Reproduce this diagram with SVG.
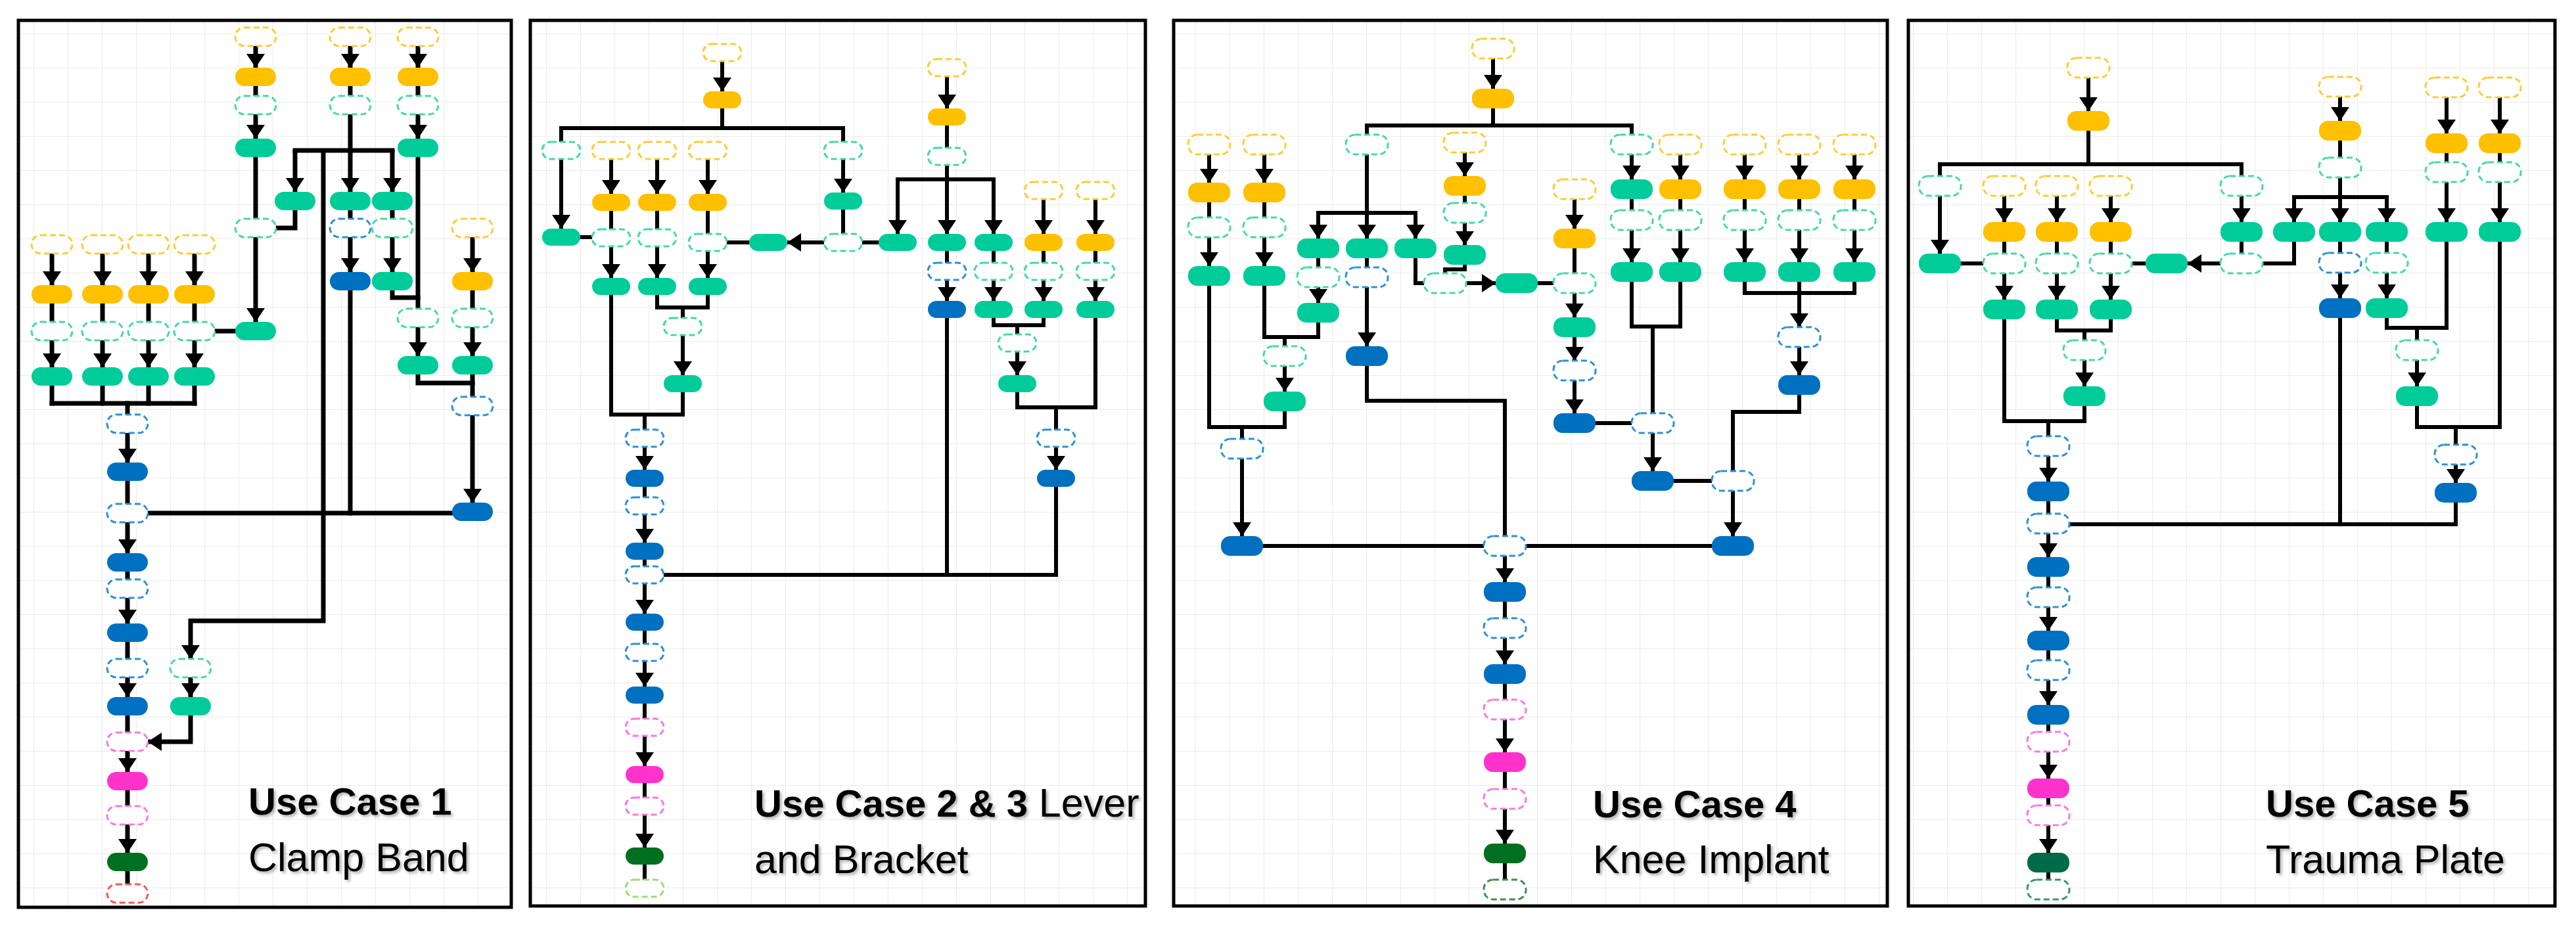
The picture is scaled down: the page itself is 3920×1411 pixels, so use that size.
<svg xmlns="http://www.w3.org/2000/svg" xmlns:xlink="http://www.w3.org/1999/xlink" width="3920" height="1411" viewBox="0 0 3920 1411">
<style>
.c{fill:none;stroke:#000;stroke-width:6;stroke-linecap:square;stroke-linejoin:miter}
.a{fill:none;stroke:#000;stroke-width:6;stroke-linecap:butt;stroke-linejoin:miter;marker-end:url(#ah)}
#p1-connectors .c,#p1-connectors .a{stroke-width:7}
.Y{fill:#FFC000}
.G{fill:#00CC99}
.B{fill:#0070C0}
.P{fill:#FF33CC}
.K{fill:#007020}
.K2{fill:#006B48}
.d{fill:#fff;stroke-width:3;stroke-dasharray:9 5}
.dY{stroke:#FFCC33}
.dG{stroke:#44D9AA}
.dB{stroke:#2E90D8}
.dP{stroke:#FF77DD}
.dR{stroke:#FF5555}
.dL{stroke:#99DD77}
.dK{stroke:#3E8E4E}
.dK2{stroke:#3A9474}
.frame{fill:url(#grid);stroke:#000;stroke-width:5}
.t{font-family:"Liberation Sans",Arial,sans-serif;fill:#000;filter:url(#sh)}
.tb{font-weight:bold;font-size:58px}
.tr{font-size:61px}
</style>
<defs>
<pattern id="grid" width="52" height="52" patternUnits="userSpaceOnUse"><rect width="52" height="52" fill="#fff"/><path d="M52,0 V52 M0,52 H52" fill="none" stroke="#ebebeb" stroke-width="2"/></pattern>
<marker id="ah" markerUnits="userSpaceOnUse" markerWidth="21" markerHeight="28" refX="21" refY="14" orient="auto"><path d="M0,0 L21,14 L0,28 Z" fill="#000"/></marker>
<filter id="sh" x="-10%" y="-30%" width="130%" height="170%"><feDropShadow dx="3" dy="3" stdDeviation="2" flood-color="#000" flood-opacity="0.3"/></filter>
<rect id="s1" x="-31" y="-14" width="62" height="28" rx="14"/>
<rect id="s2" x="-29" y="-13" width="58" height="26" rx="13"/>
<rect id="s3" x="-32" y="-15" width="64" height="30" rx="14"/>
</defs>
<rect width="3920" height="1411" fill="#fff"/>

<!-- ================= PANEL 1 ================= -->
<g id="panel1">
<rect class="frame" x="28" y="31" width="750" height="1350"/>
<g id="p1-connectors">
<path class="a" d="M389,70 V103"/><path class="c" d="M389,131 V146"/><path class="a" d="M389,174 V211"/><path class="c" d="M389,239 V333"/><path class="a" d="M389,361 V490"/>
<path class="a" d="M533,70 V103"/><path class="c" d="M533,131 V146"/><path class="c" d="M533,174 V229"/><path class="c" d="M449,229 H597"/>
<path class="a" d="M449,229 V292"/><path class="a" d="M533,229 V292"/><path class="a" d="M597,229 V292"/>
<path class="a" d="M492,229 V945 H290 V1003"/>
<path class="c" d="M449,320 V347 H420"/>
<path class="c" d="M533,320 V333"/><path class="a" d="M533,361 V414"/><path class="c" d="M533,442 V781"/>
<path class="c" d="M597,320 V333"/><path class="a" d="M597,361 V414"/><path class="c" d="M597,442 V453 H636"/>
<path class="a" d="M636,70 V103"/><path class="c" d="M636,131 V146"/><path class="a" d="M636,174 V211"/><path class="c" d="M636,239 V470"/><path class="a" d="M636,498 V542"/><path class="c" d="M636,570 V583 H719"/>
<path class="a" d="M719,361 V414"/><path class="c" d="M719,442 V470"/><path class="a" d="M719,498 V542"/><path class="c" d="M719,570 V604"/><path class="a" d="M719,632 V765"/>
<path class="a" d="M79,386 V434"/><path class="c" d="M79,462 V490"/><path class="a" d="M79,518 V559"/><path class="c" d="M79,587 V614"/>
<path class="a" d="M156,386 V434"/><path class="c" d="M156,462 V490"/><path class="a" d="M156,518 V559"/><path class="c" d="M156,587 V614"/>
<path class="a" d="M226,386 V434"/><path class="c" d="M226,462 V490"/><path class="a" d="M226,518 V559"/><path class="c" d="M226,587 V614"/>
<path class="a" d="M296,386 V434"/><path class="c" d="M296,462 V490"/><path class="a" d="M296,518 V559"/><path class="c" d="M296,587 V614"/>
<path class="c" d="M79,614 H296"/><path class="c" d="M194,614 V631"/>
<path class="c" d="M327,504 H358"/>
<path class="a" d="M194,659 V704"/><path class="c" d="M194,732 V767"/><path class="a" d="M194,795 V842"/><path class="c" d="M194,870 V882"/><path class="a" d="M194,910 V949"/><path class="c" d="M194,977 V1003"/><path class="a" d="M194,1031 V1061"/><path class="c" d="M194,1089 V1115"/><path class="a" d="M194,1143 V1175"/><path class="c" d="M194,1203 V1227"/><path class="a" d="M194,1255 V1298"/><path class="c" d="M194,1326 V1346"/>
<path class="c" d="M225,781 H688"/>
<path class="a" d="M290,1031 V1061"/><path class="a" d="M290,1089 V1129 H225"/>
</g>
<g id="p1-n01"><use href="#s1" class="d dY" x="389" y="56"/></g>
<g id="p1-n02"><use href="#s1" class="Y" x="389" y="117"/></g>
<g id="p1-n03"><use href="#s1" class="d dG" x="389" y="160"/></g>
<g id="p1-n04"><use href="#s1" class="G" x="389" y="225"/></g>
<g id="p1-n05"><use href="#s1" class="d dG" x="389" y="347"/></g>
<g id="p1-n06"><use href="#s1" class="G" x="389" y="504"/></g>
<g id="p1-n07"><use href="#s1" class="d dY" x="533" y="56"/></g>
<g id="p1-n08"><use href="#s1" class="Y" x="533" y="117"/></g>
<g id="p1-n09"><use href="#s1" class="d dG" x="533" y="160"/></g>
<g id="p1-n10"><use href="#s1" class="G" x="533" y="306"/></g>
<g id="p1-n11"><use href="#s1" class="d dB" x="533" y="347"/></g>
<g id="p1-n12"><use href="#s1" class="B" x="533" y="428"/></g>
<g id="p1-n13"><use href="#s1" class="d dY" x="636" y="56"/></g>
<g id="p1-n14"><use href="#s1" class="Y" x="636" y="117"/></g>
<g id="p1-n15"><use href="#s1" class="d dG" x="636" y="160"/></g>
<g id="p1-n16"><use href="#s1" class="G" x="636" y="225"/></g>
<g id="p1-n17"><use href="#s1" class="d dG" x="636" y="484"/></g>
<g id="p1-n18"><use href="#s1" class="G" x="636" y="556"/></g>
<g id="p1-n19"><use href="#s1" class="G" x="449" y="306"/></g>
<g id="p1-n20"><use href="#s1" class="G" x="597" y="306"/></g>
<g id="p1-n21"><use href="#s1" class="d dG" x="597" y="347"/></g>
<g id="p1-n22"><use href="#s1" class="G" x="597" y="428"/></g>
<g id="p1-n23"><use href="#s1" class="d dY" x="719" y="347"/></g>
<g id="p1-n24"><use href="#s1" class="Y" x="719" y="428"/></g>
<g id="p1-n25"><use href="#s1" class="d dG" x="719" y="484"/></g>
<g id="p1-n26"><use href="#s1" class="G" x="719" y="556"/></g>
<g id="p1-n27"><use href="#s1" class="d dB" x="719" y="618"/></g>
<g id="p1-n28"><use href="#s1" class="B" x="719" y="779"/></g>
<g id="p1-n29"><use href="#s1" class="d dY" x="79" y="372"/></g>
<g id="p1-n30"><use href="#s1" class="Y" x="79" y="448"/></g>
<g id="p1-n31"><use href="#s1" class="d dG" x="79" y="504"/></g>
<g id="p1-n32"><use href="#s1" class="G" x="79" y="573"/></g>
<g id="p1-n33"><use href="#s1" class="d dY" x="156" y="372"/></g>
<g id="p1-n34"><use href="#s1" class="Y" x="156" y="448"/></g>
<g id="p1-n35"><use href="#s1" class="d dG" x="156" y="504"/></g>
<g id="p1-n36"><use href="#s1" class="G" x="156" y="573"/></g>
<g id="p1-n37"><use href="#s1" class="d dY" x="226" y="372"/></g>
<g id="p1-n38"><use href="#s1" class="Y" x="226" y="448"/></g>
<g id="p1-n39"><use href="#s1" class="d dG" x="226" y="504"/></g>
<g id="p1-n40"><use href="#s1" class="G" x="226" y="573"/></g>
<g id="p1-n41"><use href="#s1" class="d dY" x="296" y="372"/></g>
<g id="p1-n42"><use href="#s1" class="Y" x="296" y="448"/></g>
<g id="p1-n43"><use href="#s1" class="d dG" x="296" y="504"/></g>
<g id="p1-n44"><use href="#s1" class="G" x="296" y="573"/></g>
<g id="p1-n45"><use href="#s1" class="d dB" x="194" y="645"/></g>
<g id="p1-n46"><use href="#s1" class="B" x="194" y="718"/></g>
<g id="p1-n47"><use href="#s1" class="d dB" x="194" y="781"/></g>
<g id="p1-n48"><use href="#s1" class="B" x="194" y="856"/></g>
<g id="p1-n49"><use href="#s1" class="d dB" x="194" y="896"/></g>
<g id="p1-n50"><use href="#s1" class="B" x="194" y="963"/></g>
<g id="p1-n51"><use href="#s1" class="d dB" x="194" y="1017"/></g>
<g id="p1-n52"><use href="#s1" class="B" x="194" y="1075"/></g>
<g id="p1-n53"><use href="#s1" class="d dP" x="194" y="1129"/></g>
<g id="p1-n54"><use href="#s1" class="P" x="194" y="1189"/></g>
<g id="p1-n55"><use href="#s1" class="d dP" x="194" y="1241"/></g>
<g id="p1-n56"><use href="#s1" class="K" x="194" y="1312"/></g>
<g id="p1-n57"><use href="#s1" class="d dR" x="194" y="1360"/></g>
<g id="p1-n58"><use href="#s1" class="d dG" x="290" y="1017"/></g>
<g id="p1-n59"><use href="#s1" class="G" x="290" y="1075"/></g>
<g id="p1-label"><text class="t tb" x="378" y="1240">Use Case 1</text><text class="t tr" x="378" y="1326">Clamp Band</text></g>
</g>

<!-- ================= PANEL 2 ================= -->
<g id="panel2">
<rect class="frame" x="807" y="31" width="936" height="1348"/>
<g id="p2-connectors">
<path class="a" d="M1099,93 V139"/><path class="c" d="M1099,165 V195"/><path class="c" d="M854,195 H1283"/><path class="c" d="M854,195 V216"/><path class="c" d="M1283,195 V216"/>
<path class="a" d="M854,242 V348"/>
<path class="a" d="M1283,242 V293"/><path class="c" d="M1283,319 V356"/>
<path class="a" d="M1254,369 H1198"/><path class="c" d="M1337,369 H1312"/><path class="c" d="M1140,369 H1106"/><path class="c" d="M883,361 H901"/>
<path class="a" d="M930,242 V295"/><path class="c" d="M930,321 V349"/><path class="a" d="M930,375 V423"/>
<path class="a" d="M1000,242 V295"/><path class="c" d="M1000,321 V349"/><path class="a" d="M1000,375 V423"/>
<path class="a" d="M1077,242 V295"/><path class="c" d="M1077,321 V356"/><path class="a" d="M1077,382 V423"/>
<path class="c" d="M1000,449 V468 H1077 V449"/><path class="c" d="M1039,468 V484"/><path class="a" d="M1039,510 V571"/>
<path class="c" d="M930,449 V631 H1039 V597"/><path class="c" d="M981,631 V654"/><path class="a" d="M981,680 V715"/>
<path class="c" d="M981,741 V757"/><path class="a" d="M981,783 V826"/><path class="c" d="M981,852 V862"/><path class="a" d="M981,888 V934"/><path class="c" d="M981,960 V980"/><path class="a" d="M981,1006 V1045"/><path class="c" d="M981,1071 V1094"/><path class="a" d="M981,1120 V1166"/><path class="c" d="M981,1192 V1214"/><path class="a" d="M981,1240 V1290"/><path class="c" d="M981,1316 V1339"/>
<path class="a" d="M1441,116 V165"/><path class="c" d="M1441,191 V225"/><path class="c" d="M1441,251 V273"/><path class="c" d="M1366,273 H1512"/>
<path class="a" d="M1366,273 V356"/><path class="a" d="M1441,273 V356"/><path class="a" d="M1512,273 V356"/>
<path class="a" d="M1588,303 V356"/><path class="a" d="M1667,303 V356"/>
<path class="c" d="M1441,382 V400"/><path class="a" d="M1441,426 V458"/><path class="c" d="M1441,484 V875"/>
<path class="c" d="M1512,382 V400"/><path class="a" d="M1512,426 V458"/>
<path class="c" d="M1588,382 V400"/><path class="a" d="M1588,426 V458"/>
<path class="c" d="M1667,382 V400"/><path class="a" d="M1667,426 V458"/>
<path class="c" d="M1512,484 V495 H1588 V484"/><path class="c" d="M1548,495 V509"/><path class="a" d="M1548,535 V571"/>
<path class="c" d="M1548,597 V620 H1667 V484"/><path class="c" d="M1607,620 V654"/><path class="a" d="M1607,680 V715"/>
<path class="c" d="M1607,741 V875 H1010"/>
</g>
<g id="p2-n01"><use href="#s2" class="d dY" x="1099" y="80"/></g>
<g id="p2-n02"><use href="#s2" class="Y" x="1099" y="152"/></g>
<g id="p2-n03"><use href="#s2" class="d dG" x="854" y="229"/></g>
<g id="p2-n04"><use href="#s2" class="G" x="854" y="361"/></g>
<g id="p2-n05"><use href="#s2" class="d dG" x="1283" y="229"/></g>
<g id="p2-n06"><use href="#s2" class="G" x="1283" y="306"/></g>
<g id="p2-n07"><use href="#s2" class="d dG" x="1283" y="369"/></g>
<g id="p2-n08"><use href="#s2" class="G" x="1169" y="369"/></g>
<g id="p2-n09"><use href="#s2" class="G" x="1366" y="369"/></g>
<g id="p2-n10"><use href="#s2" class="d dY" x="930" y="229"/></g>
<g id="p2-n11"><use href="#s2" class="Y" x="930" y="308"/></g>
<g id="p2-n12"><use href="#s2" class="d dG" x="930" y="362"/></g>
<g id="p2-n13"><use href="#s2" class="G" x="930" y="436"/></g>
<g id="p2-n14"><use href="#s2" class="d dY" x="1000" y="229"/></g>
<g id="p2-n15"><use href="#s2" class="Y" x="1000" y="308"/></g>
<g id="p2-n16"><use href="#s2" class="d dG" x="1000" y="362"/></g>
<g id="p2-n17"><use href="#s2" class="G" x="1000" y="436"/></g>
<g id="p2-n18"><use href="#s2" class="d dY" x="1077" y="229"/></g>
<g id="p2-n19"><use href="#s2" class="Y" x="1077" y="308"/></g>
<g id="p2-n20"><use href="#s2" class="d dG" x="1077" y="369"/></g>
<g id="p2-n21"><use href="#s2" class="G" x="1077" y="436"/></g>
<g id="p2-n22"><use href="#s2" class="d dG" x="1039" y="497"/></g>
<g id="p2-n23"><use href="#s2" class="G" x="1039" y="584"/></g>
<g id="p2-n24"><use href="#s2" class="d dB" x="981" y="667"/></g>
<g id="p2-n25"><use href="#s2" class="B" x="981" y="728"/></g>
<g id="p2-n26"><use href="#s2" class="d dB" x="981" y="770"/></g>
<g id="p2-n27"><use href="#s2" class="B" x="981" y="839"/></g>
<g id="p2-n28"><use href="#s2" class="d dB" x="981" y="875"/></g>
<g id="p2-n29"><use href="#s2" class="B" x="981" y="947"/></g>
<g id="p2-n30"><use href="#s2" class="d dB" x="981" y="993"/></g>
<g id="p2-n31"><use href="#s2" class="B" x="981" y="1058"/></g>
<g id="p2-n32"><use href="#s2" class="d dP" x="981" y="1107"/></g>
<g id="p2-n33"><use href="#s2" class="P" x="981" y="1179"/></g>
<g id="p2-n34"><use href="#s2" class="d dP" x="981" y="1227"/></g>
<g id="p2-n35"><use href="#s2" class="K" x="981" y="1303"/></g>
<g id="p2-n36"><use href="#s2" class="d dL" x="981" y="1352"/></g>
<g id="p2-n37"><use href="#s2" class="d dY" x="1441" y="103"/></g>
<g id="p2-n38"><use href="#s2" class="Y" x="1441" y="178"/></g>
<g id="p2-n39"><use href="#s2" class="d dG" x="1441" y="238"/></g>
<g id="p2-n40"><use href="#s2" class="G" x="1441" y="369"/></g>
<g id="p2-n41"><use href="#s2" class="G" x="1512" y="369"/></g>
<g id="p2-n42"><use href="#s2" class="d dY" x="1588" y="290"/></g>
<g id="p2-n43"><use href="#s2" class="d dY" x="1667" y="290"/></g>
<g id="p2-n44"><use href="#s2" class="Y" x="1588" y="369"/></g>
<g id="p2-n45"><use href="#s2" class="Y" x="1667" y="369"/></g>
<g id="p2-n46"><use href="#s2" class="d dB" x="1441" y="413"/></g>
<g id="p2-n47"><use href="#s2" class="d dG" x="1512" y="413"/></g>
<g id="p2-n48"><use href="#s2" class="d dG" x="1588" y="413"/></g>
<g id="p2-n49"><use href="#s2" class="d dG" x="1667" y="413"/></g>
<g id="p2-n50"><use href="#s2" class="B" x="1441" y="471"/></g>
<g id="p2-n51"><use href="#s2" class="G" x="1512" y="471"/></g>
<g id="p2-n52"><use href="#s2" class="G" x="1588" y="471"/></g>
<g id="p2-n53"><use href="#s2" class="G" x="1667" y="471"/></g>
<g id="p2-n54"><use href="#s2" class="d dG" x="1548" y="522"/></g>
<g id="p2-n55"><use href="#s2" class="G" x="1548" y="584"/></g>
<g id="p2-n56"><use href="#s2" class="d dB" x="1607" y="667"/></g>
<g id="p2-n57"><use href="#s2" class="B" x="1607" y="728"/></g>
<g id="p2-label"><text class="t" x="1148" y="1243"><tspan class="tb">Use Case 2 &amp; 3</tspan><tspan class="tr"> Lever</tspan></text><text class="t tr" x="1148" y="1329">and Bracket</text></g>
</g>

<!-- ================= PANEL 3 ================= -->
<g id="panel3">
<rect class="frame" x="1786" y="31" width="1086" height="1348"/>
<g id="p3-connectors">
<path class="a" d="M2272,89 V135"/><path class="c" d="M2272,165 V191"/><path class="c" d="M2080,191 H2483"/><path class="c" d="M2080,191 V205"/><path class="c" d="M2483,191 V205"/>
<path class="c" d="M2080,235 V324"/><path class="c" d="M2006,324 H2154"/>
<path class="a" d="M2006,324 V363"/><path class="a" d="M2080,324 V363"/><path class="a" d="M2154,324 V363"/>
<path class="a" d="M2483,235 V273"/><path class="c" d="M2483,303 V320"/><path class="a" d="M2483,350 V399"/>
<path class="a" d="M1840,235 V278"/><path class="c" d="M1840,308 V331"/><path class="a" d="M1840,361 V405"/>
<path class="a" d="M1924,235 V278"/><path class="c" d="M1924,308 V331"/><path class="a" d="M1924,361 V405"/>
<path class="a" d="M2229,232 V268"/><path class="c" d="M2229,298 V309"/><path class="a" d="M2229,339 V373"/>
<path class="c" d="M2006,393 V407"/><path class="a" d="M2006,437 V461"/>
<path class="c" d="M2080,393 V407"/><path class="a" d="M2080,437 V527"/>
<path class="c" d="M2154,393 V431 H2167"/>
<path class="c" d="M2229,403 V410 H2199 V416"/>
<path class="a" d="M2231,431 H2276"/><path class="c" d="M2340,431 H2364"/>
<path class="a" d="M2396,303 V348"/><path class="c" d="M2396,378 V416"/><path class="a" d="M2396,446 V483"/><path class="a" d="M2396,513 V549"/><path class="a" d="M2396,579 V629"/>
<path class="c" d="M2428,644 H2483"/>
<path class="a" d="M2557,235 V273"/><path class="c" d="M2557,303 V320"/><path class="a" d="M2557,350 V399"/>
<path class="a" d="M2655,235 V273"/><path class="c" d="M2655,303 V320"/><path class="a" d="M2655,350 V399"/>
<path class="a" d="M2738,235 V273"/><path class="c" d="M2738,303 V320"/><path class="a" d="M2738,350 V399"/>
<path class="a" d="M2822,235 V273"/><path class="c" d="M2822,303 V320"/><path class="a" d="M2822,350 V399"/>
<path class="c" d="M2483,429 V497 H2557 V429"/><path class="c" d="M2515,497 V629"/>
<path class="a" d="M2515,659 V717"/><path class="c" d="M2547,732 H2605"/><path class="a" d="M2637,747 V816"/>
<path class="c" d="M2738,601 V627 H2637 V717"/>
<path class="c" d="M2655,429 V446 H2822 V429"/><path class="a" d="M2738,429 V498"/><path class="a" d="M2738,528 V571"/>
<path class="c" d="M1924,435 V513 H2006 V491"/><path class="c" d="M1955,513 V527"/><path class="a" d="M1955,557 V596"/>
<path class="c" d="M1840,435 V650 H1955 V626"/><path class="c" d="M1890,650 V668"/><path class="a" d="M1890,698 V816"/>
<path class="c" d="M2080,557 V610 H2290 V816"/>
<path class="c" d="M1922,831 H2258"/><path class="c" d="M2322,831 H2605"/>
<path class="a" d="M2290,846 V886"/><path class="c" d="M2290,916 V941"/><path class="a" d="M2290,971 V1011"/><path class="c" d="M2290,1041 V1065"/><path class="a" d="M2290,1095 V1145"/><path class="c" d="M2290,1175 V1201"/><path class="a" d="M2290,1231 V1284"/><path class="c" d="M2290,1314 V1339"/>
</g>
<g id="p3-n01"><use href="#s3" class="d dY" x="2272" y="74"/></g>
<g id="p3-n02"><use href="#s3" class="Y" x="2272" y="150"/></g>
<g id="p3-n03"><use href="#s3" class="d dG" x="2080" y="220"/></g>
<g id="p3-n04"><use href="#s3" class="d dG" x="2483" y="220"/></g>
<g id="p3-n05"><use href="#s3" class="d dY" x="1840" y="220"/></g>
<g id="p3-n06"><use href="#s3" class="Y" x="1840" y="293"/></g>
<g id="p3-n07"><use href="#s3" class="d dG" x="1840" y="346"/></g>
<g id="p3-n08"><use href="#s3" class="G" x="1840" y="420"/></g>
<g id="p3-n09"><use href="#s3" class="d dY" x="1924" y="220"/></g>
<g id="p3-n10"><use href="#s3" class="Y" x="1924" y="293"/></g>
<g id="p3-n11"><use href="#s3" class="d dG" x="1924" y="346"/></g>
<g id="p3-n12"><use href="#s3" class="G" x="1924" y="420"/></g>
<g id="p3-n13"><use href="#s3" class="d dY" x="2229" y="217"/></g>
<g id="p3-n14"><use href="#s3" class="Y" x="2229" y="283"/></g>
<g id="p3-n15"><use href="#s3" class="d dG" x="2229" y="324"/></g>
<g id="p3-n16"><use href="#s3" class="G" x="2229" y="388"/></g>
<g id="p3-n17"><use href="#s3" class="G" x="2006" y="378"/></g>
<g id="p3-n18"><use href="#s3" class="G" x="2080" y="378"/></g>
<g id="p3-n19"><use href="#s3" class="G" x="2154" y="378"/></g>
<g id="p3-n20"><use href="#s3" class="d dG" x="2006" y="422"/></g>
<g id="p3-n21"><use href="#s3" class="G" x="2006" y="476"/></g>
<g id="p3-n22"><use href="#s3" class="d dB" x="2080" y="422"/></g>
<g id="p3-n23"><use href="#s3" class="B" x="2080" y="542"/></g>
<g id="p3-n24"><use href="#s3" class="d dG" x="2199" y="431"/></g>
<g id="p3-n25"><use href="#s3" class="G" x="2308" y="431"/></g>
<g id="p3-n26"><use href="#s3" class="d dG" x="2396" y="431"/></g>
<g id="p3-n27"><use href="#s3" class="d dY" x="2396" y="288"/></g>
<g id="p3-n28"><use href="#s3" class="Y" x="2396" y="363"/></g>
<g id="p3-n29"><use href="#s3" class="G" x="2396" y="498"/></g>
<g id="p3-n30"><use href="#s3" class="d dB" x="2396" y="564"/></g>
<g id="p3-n31"><use href="#s3" class="B" x="2396" y="644"/></g>
<g id="p3-n32"><use href="#s3" class="d dB" x="2515" y="644"/></g>
<g id="p3-n33"><use href="#s3" class="B" x="2515" y="732"/></g>
<g id="p3-n34"><use href="#s3" class="G" x="2483" y="288"/></g>
<g id="p3-n35"><use href="#s3" class="d dG" x="2483" y="335"/></g>
<g id="p3-n36"><use href="#s3" class="G" x="2483" y="414"/></g>
<g id="p3-n37"><use href="#s3" class="d dY" x="2557" y="220"/></g>
<g id="p3-n38"><use href="#s3" class="Y" x="2557" y="288"/></g>
<g id="p3-n39"><use href="#s3" class="d dG" x="2557" y="335"/></g>
<g id="p3-n40"><use href="#s3" class="G" x="2557" y="414"/></g>
<g id="p3-n41"><use href="#s3" class="d dY" x="2655" y="220"/></g>
<g id="p3-n42"><use href="#s3" class="Y" x="2655" y="288"/></g>
<g id="p3-n43"><use href="#s3" class="d dG" x="2655" y="335"/></g>
<g id="p3-n44"><use href="#s3" class="G" x="2655" y="414"/></g>
<g id="p3-n45"><use href="#s3" class="d dY" x="2738" y="220"/></g>
<g id="p3-n46"><use href="#s3" class="Y" x="2738" y="288"/></g>
<g id="p3-n47"><use href="#s3" class="d dG" x="2738" y="335"/></g>
<g id="p3-n48"><use href="#s3" class="G" x="2738" y="414"/></g>
<g id="p3-n49"><use href="#s3" class="d dY" x="2822" y="220"/></g>
<g id="p3-n50"><use href="#s3" class="Y" x="2822" y="288"/></g>
<g id="p3-n51"><use href="#s3" class="d dG" x="2822" y="335"/></g>
<g id="p3-n52"><use href="#s3" class="G" x="2822" y="414"/></g>
<g id="p3-n53"><use href="#s3" class="d dB" x="2738" y="513"/></g>
<g id="p3-n54"><use href="#s3" class="B" x="2738" y="586"/></g>
<g id="p3-n55"><use href="#s3" class="d dB" x="2637" y="732"/></g>
<g id="p3-n56"><use href="#s3" class="B" x="2637" y="831"/></g>
<g id="p3-n57"><use href="#s3" class="d dG" x="1955" y="542"/></g>
<g id="p3-n58"><use href="#s3" class="G" x="1955" y="611"/></g>
<g id="p3-n59"><use href="#s3" class="d dB" x="1890" y="683"/></g>
<g id="p3-n60"><use href="#s3" class="B" x="1890" y="831"/></g>
<g id="p3-n61"><use href="#s3" class="d dB" x="2290" y="831"/></g>
<g id="p3-n62"><use href="#s3" class="B" x="2290" y="901"/></g>
<g id="p3-n63"><use href="#s3" class="d dB" x="2290" y="956"/></g>
<g id="p3-n64"><use href="#s3" class="B" x="2290" y="1026"/></g>
<g id="p3-n65"><use href="#s3" class="d dP" x="2290" y="1080"/></g>
<g id="p3-n66"><use href="#s3" class="P" x="2290" y="1160"/></g>
<g id="p3-n67"><use href="#s3" class="d dP" x="2290" y="1216"/></g>
<g id="p3-n68"><use href="#s3" class="K" x="2290" y="1299"/></g>
<g id="p3-n69"><use href="#s3" class="d dK" x="2290" y="1354"/></g>
<g id="p3-label"><text class="t tb" x="2424" y="1244">Use Case 4</text><text class="t tr" x="2424" y="1329">Knee Implant</text></g>
</g>

<!-- ================= PANEL 4 ================= -->
<g id="panel4">
<rect class="frame" x="2904" y="31" width="984" height="1348"/>
<g id="p4-connectors">
<path class="a" d="M3178,118 V169"/><path class="c" d="M3178,199 V250"/><path class="c" d="M2952,250 H3411"/><path class="c" d="M2952,250 V268"/><path class="c" d="M3411,250 V268"/>
<path class="a" d="M2952,298 V386"/>
<path class="a" d="M3411,298 V338"/><path class="c" d="M3411,368 V386"/>
<path class="a" d="M3379,401 H3329"/><path class="c" d="M3491,368 V401 H3443"/><path class="c" d="M3244,401 H3265"/><path class="c" d="M2984,401 H3018"/>
<path class="a" d="M3050,298 V338"/><path class="c" d="M3050,368 V386"/><path class="a" d="M3050,416 V456"/>
<path class="a" d="M3130,298 V338"/><path class="c" d="M3130,368 V386"/><path class="a" d="M3130,416 V456"/>
<path class="a" d="M3212,298 V338"/><path class="c" d="M3212,368 V386"/><path class="a" d="M3212,416 V456"/>
<path class="c" d="M3130,486 V503 H3212 V486"/><path class="c" d="M3172,503 V518"/><path class="a" d="M3172,548 V588"/>
<path class="c" d="M3050,486 V641 H3172 V618"/><path class="c" d="M3117,641 V664"/><path class="a" d="M3117,694 V733"/>
<path class="c" d="M3117,763 V782"/><path class="a" d="M3117,812 V848"/><path class="c" d="M3117,878 V894"/><path class="a" d="M3117,924 V960"/><path class="c" d="M3117,990 V1005"/><path class="a" d="M3117,1035 V1073"/><path class="c" d="M3117,1103 V1114"/><path class="a" d="M3117,1144 V1185"/><path class="c" d="M3117,1215 V1226"/><path class="a" d="M3117,1256 V1298"/><path class="c" d="M3117,1328 V1339"/>
<path class="a" d="M3561,147 V184"/><path class="c" d="M3561,214 V240"/><path class="c" d="M3561,270 V300"/><path class="c" d="M3491,300 H3632"/>
<path class="a" d="M3491,300 V338"/><path class="a" d="M3561,300 V338"/><path class="a" d="M3632,300 V338"/>
<path class="a" d="M3723,148 V203"/><path class="c" d="M3723,233 V247"/><path class="a" d="M3723,277 V338"/>
<path class="a" d="M3804,148 V203"/><path class="c" d="M3804,233 V247"/><path class="a" d="M3804,277 V338"/>
<path class="c" d="M3561,368 V385"/><path class="a" d="M3561,415 V454"/><path class="c" d="M3561,484 V798"/>
<path class="c" d="M3632,368 V385"/><path class="a" d="M3632,415 V454"/>
<path class="c" d="M3632,484 V499 H3723 V368"/><path class="c" d="M3678,499 V518"/><path class="a" d="M3678,548 V588"/>
<path class="c" d="M3678,618 V650 H3804 V368"/><path class="c" d="M3737,650 V677"/><path class="a" d="M3737,707 V735"/>
<path class="c" d="M3737,765 V798 H3149"/>
</g>
<g id="p4-n01"><use href="#s3" class="d dY" x="3178" y="103"/></g>
<g id="p4-n02"><use href="#s3" class="Y" x="3178" y="184"/></g>
<g id="p4-n03"><use href="#s3" class="d dG" x="2952" y="283"/></g>
<g id="p4-n04"><use href="#s3" class="G" x="2952" y="401"/></g>
<g id="p4-n05"><use href="#s3" class="d dG" x="3411" y="283"/></g>
<g id="p4-n06"><use href="#s3" class="G" x="3411" y="353"/></g>
<g id="p4-n07"><use href="#s3" class="d dG" x="3411" y="401"/></g>
<g id="p4-n08"><use href="#s3" class="d dY" x="3050" y="283"/></g>
<g id="p4-n09"><use href="#s3" class="Y" x="3050" y="353"/></g>
<g id="p4-n10"><use href="#s3" class="d dG" x="3050" y="401"/></g>
<g id="p4-n11"><use href="#s3" class="G" x="3050" y="471"/></g>
<g id="p4-n12"><use href="#s3" class="d dY" x="3130" y="283"/></g>
<g id="p4-n13"><use href="#s3" class="Y" x="3130" y="353"/></g>
<g id="p4-n14"><use href="#s3" class="d dG" x="3130" y="401"/></g>
<g id="p4-n15"><use href="#s3" class="G" x="3130" y="471"/></g>
<g id="p4-n16"><use href="#s3" class="d dY" x="3212" y="283"/></g>
<g id="p4-n17"><use href="#s3" class="Y" x="3212" y="353"/></g>
<g id="p4-n18"><use href="#s3" class="d dG" x="3212" y="401"/></g>
<g id="p4-n19"><use href="#s3" class="G" x="3212" y="471"/></g>
<g id="p4-n20"><use href="#s3" class="G" x="3297" y="401"/></g>
<g id="p4-n21"><use href="#s3" class="d dG" x="3172" y="533"/></g>
<g id="p4-n22"><use href="#s3" class="G" x="3172" y="603"/></g>
<g id="p4-n23"><use href="#s3" class="d dB" x="3117" y="679"/></g>
<g id="p4-n24"><use href="#s3" class="B" x="3117" y="748"/></g>
<g id="p4-n25"><use href="#s3" class="d dB" x="3117" y="797"/></g>
<g id="p4-n26"><use href="#s3" class="B" x="3117" y="863"/></g>
<g id="p4-n27"><use href="#s3" class="d dB" x="3117" y="909"/></g>
<g id="p4-n28"><use href="#s3" class="B" x="3117" y="975"/></g>
<g id="p4-n29"><use href="#s3" class="d dB" x="3117" y="1020"/></g>
<g id="p4-n30"><use href="#s3" class="B" x="3117" y="1088"/></g>
<g id="p4-n31"><use href="#s3" class="d dP" x="3117" y="1129"/></g>
<g id="p4-n32"><use href="#s3" class="P" x="3117" y="1200"/></g>
<g id="p4-n33"><use href="#s3" class="d dP" x="3117" y="1241"/></g>
<g id="p4-n34"><use href="#s3" class="K2" x="3117" y="1313"/></g>
<g id="p4-n35"><use href="#s3" class="d dK2" x="3117" y="1354"/></g>
<g id="p4-n36"><use href="#s3" class="d dY" x="3561" y="132"/></g>
<g id="p4-n37"><use href="#s3" class="Y" x="3561" y="199"/></g>
<g id="p4-n38"><use href="#s3" class="d dG" x="3561" y="255"/></g>
<g id="p4-n39"><use href="#s3" class="G" x="3491" y="353"/></g>
<g id="p4-n40"><use href="#s3" class="G" x="3561" y="353"/></g>
<g id="p4-n41"><use href="#s3" class="G" x="3632" y="353"/></g>
<g id="p4-n42"><use href="#s3" class="d dY" x="3723" y="133"/></g>
<g id="p4-n43"><use href="#s3" class="Y" x="3723" y="218"/></g>
<g id="p4-n44"><use href="#s3" class="d dG" x="3723" y="262"/></g>
<g id="p4-n45"><use href="#s3" class="G" x="3723" y="353"/></g>
<g id="p4-n46"><use href="#s3" class="d dY" x="3804" y="133"/></g>
<g id="p4-n47"><use href="#s3" class="Y" x="3804" y="218"/></g>
<g id="p4-n48"><use href="#s3" class="d dG" x="3804" y="262"/></g>
<g id="p4-n49"><use href="#s3" class="G" x="3804" y="353"/></g>
<g id="p4-n50"><use href="#s3" class="d dB" x="3561" y="400"/></g>
<g id="p4-n51"><use href="#s3" class="B" x="3561" y="469"/></g>
<g id="p4-n52"><use href="#s3" class="d dG" x="3632" y="400"/></g>
<g id="p4-n53"><use href="#s3" class="G" x="3632" y="469"/></g>
<g id="p4-n54"><use href="#s3" class="d dG" x="3678" y="533"/></g>
<g id="p4-n55"><use href="#s3" class="G" x="3678" y="603"/></g>
<g id="p4-n56"><use href="#s3" class="d dB" x="3737" y="692"/></g>
<g id="p4-n57"><use href="#s3" class="B" x="3737" y="750"/></g>
<g id="p4-label"><text class="t tb" x="3448" y="1243">Use Case 5</text><text class="t tr" x="3448" y="1329">Trauma Plate</text></g>
</g>
</svg>
